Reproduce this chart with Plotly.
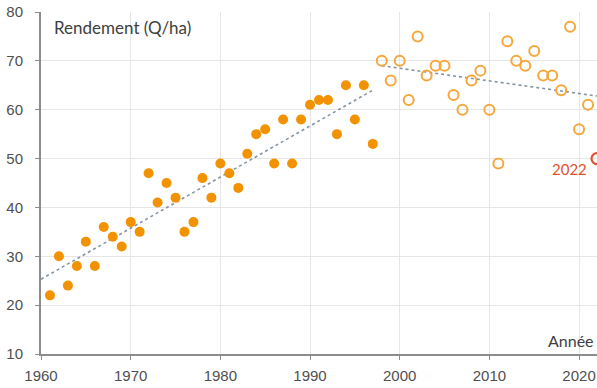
import plotly.graph_objects as go

# Data
years_early = list(range(1961, 1998))
yield_early = [22, 30, 24, 28, 33, 28, 36, 34, 32, 37, 35, 47, 41, 45, 42, 35, 37,
               46, 42, 49, 47, 44, 51, 55, 56, 49, 58, 49, 58, 61, 62, 62, 55, 65,
               58, 65, 53]
years_late = list(range(1998, 2022))
yield_late = [70, 66, 70, 62, 75, 67, 69, 69, 63, 60, 66, 68, 60, 49, 74, 70, 69,
              72, 67, 67, 64, 77, 56, 61]
year_2022 = [2022]
yield_2022 = [50]

trend_early_x = [1960, 1997]
trend_early_y = [25.3, 64.0]
trend_late_x = [1998, 2022]
trend_late_y = [69.0, 62.8]

x_ticks = [1960, 1970, 1980, 1990, 2000, 2010, 2020]
y_ticks = [10, 20, 30, 40, 50, 60, 70, 80]

ORANGE = "#F39200"
ORANGE_LIGHT = "#F5A73C"
RED = "#E2522E"
TREND = "#8394A3"
TICK_COLOR = "#4F4F4F"

fig = go.Figure()
fig.add_trace(go.Scatter(x=trend_early_x, y=trend_early_y, mode="lines",
                         line=dict(color=TREND, width=1.6, dash="dot"),
                         hoverinfo="skip", showlegend=False))
fig.add_trace(go.Scatter(x=trend_late_x, y=trend_late_y, mode="lines",
                         line=dict(color=TREND, width=1.6, dash="dot"),
                         hoverinfo="skip", showlegend=False))
fig.add_trace(go.Scatter(x=years_early, y=yield_early, mode="markers",
                         marker=dict(color=ORANGE, size=10, line=dict(width=0)),
                         showlegend=False))
fig.add_trace(go.Scatter(x=years_late, y=yield_late, mode="markers",
                         marker=dict(symbol="circle-open", color=ORANGE_LIGHT, size=10,
                                     line=dict(width=2)),
                         showlegend=False, cliponaxis=False))
fig.add_trace(go.Scatter(x=year_2022, y=yield_2022, mode="markers",
                         marker=dict(symbol="circle-open", color=RED, size=11,
                                     line=dict(width=2.2)),
                         showlegend=False, cliponaxis=False))

fig.add_annotation(x=0.02, y=0.955, xref="paper", yref="paper", text="Rendement (Q/ha)",
                   showarrow=False, xanchor="left", yanchor="middle",
                   font=dict(family="Lato", size=17, color="#404040"))
fig.add_annotation(x=1.0, y=0.04, xref="paper", yref="paper", text="Année",
                   showarrow=False, xanchor="right", yanchor="middle", xshift=-1,
                   font=dict(family="Lato", size=16, color="#404040"))
fig.add_annotation(x=year_2022[0], y=yield_2022[0], text="2022", showarrow=False,
                   xanchor="right", yanchor="top", xshift=-8, yshift=1,
                   font=dict(family="Lato", size=15, color=RED))

fig.update_layout(
    width=597, height=388,
    margin=dict(l=41, r=0, t=12, b=34, autoexpand=False),
    paper_bgcolor="white", plot_bgcolor="white",
    font=dict(family="Liberation Sans", size=15, color=TICK_COLOR),
)
fig.update_xaxes(range=[1960, 2022], tickvals=x_ticks, showgrid=True, automargin=False,
                 gridcolor="#E6E6E6", gridwidth=1, showline=True, linecolor="#8C8C8C",
                 linewidth=2, ticks="outside", ticklen=4, tickcolor="#8C8C8C",
                 ticklabelstandoff=3,
                 zeroline=False, tickfont=dict(size=15, color=TICK_COLOR))
fig.update_yaxes(range=[10, 80], tickvals=y_ticks, showgrid=True, automargin=False,
                 gridcolor="#E6E6E6", gridwidth=1, showline=True, linecolor="#8C8C8C",
                 linewidth=2, ticks="outside", ticklen=4, tickcolor="#8C8C8C",
                 ticklabelstandoff=9,
                 zeroline=False, tickfont=dict(size=15, color=TICK_COLOR))

fig.write_html("out.html", config={"displayModeBar": False},
               post_script="document.body.style.margin='0';document.body.style.overflow='hidden';")
